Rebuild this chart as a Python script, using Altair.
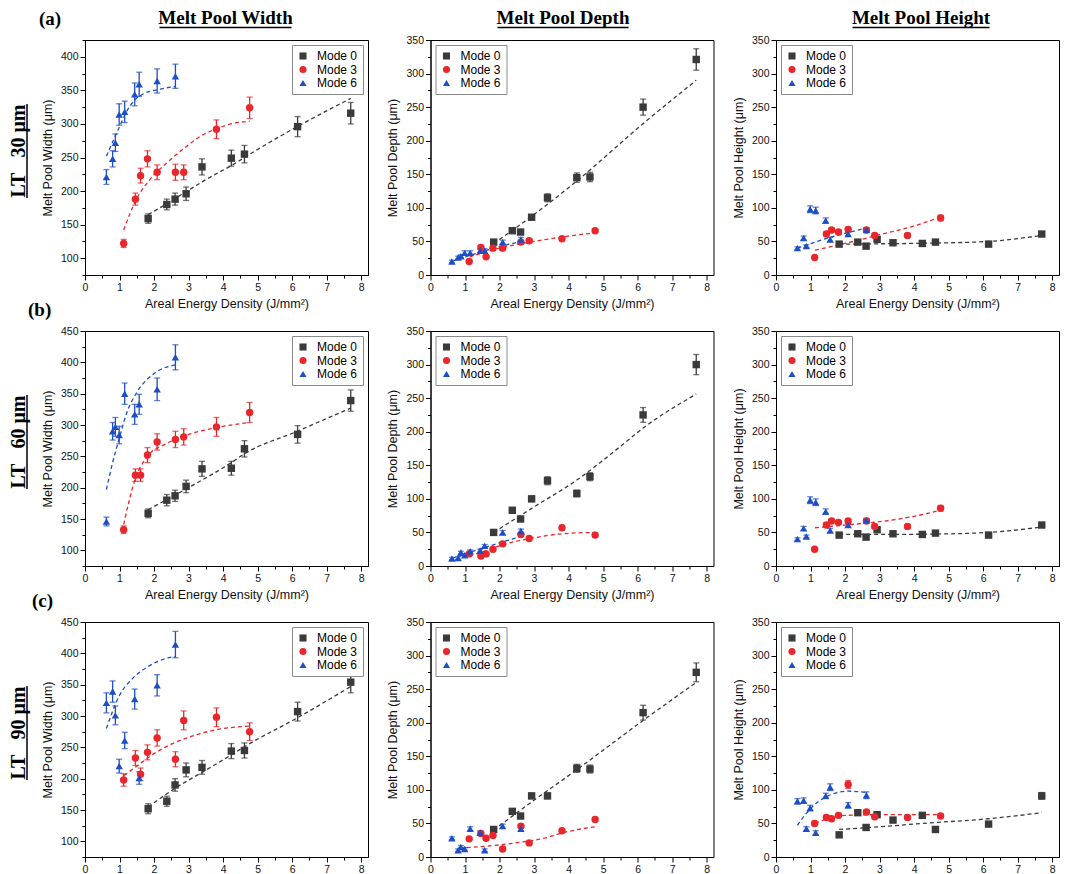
import altair as alt
import pandas as pd

MODES = ["Mode 0", "Mode 3", "Mode 6"]
MODE_COLORS = ["#3a3a3a", "#e8262b", "#1d4ec6"]
MODE_SHAPES = ["square", "circle", "triangle-up"]

SANS = "Liberation Sans"
SERIF = "Liberation Serif"

# Areal energy density (J/mm²) of each scan mode
AED_MODE0 = [1.83, 2.37, 2.61, 2.93, 3.39, 4.24, 4.62, 6.16, 7.70]
AED_MODE3 = [1.12, 1.46, 1.61, 1.81, 2.09, 2.62, 2.86, 3.81, 4.77]
AED_MODE6 = [0.62, 0.80, 0.88, 0.99, 1.15, 1.44, 1.57, 2.09, 2.62]

# ---- LT 30 µm -------------------------------------------------------------
WIDTH30_MODE0 = [159, 180, 188, 196, 236, 249, 255, 296, 316]
WIDTH30_MODE0_ERR = [7, 8, 9, 10, 12, 12, 13, 15, 16]
WIDTH30_MODE3 = [122, 188, 223, 248, 228, 228, 228, 292, 324]
WIDTH30_MODE3_ERR = [6, 9, 11, 12, 11, 12, 11, 14, 16]
WIDTH30_MODE6 = [221, 248, 272, 314, 318, 344, 359, 364, 371]
WIDTH30_MODE6_ERR = [11, 12, 13, 16, 16, 17, 18, 18, 18]

DEPTH30_MODE0 = [49, 66, 64, 86, 115, 145, 146, 250, 321]
DEPTH30_MODE0_ERR = [3, 3, 3, 4, 6, 7, 7, 12, 16]
DEPTH30_MODE3 = [20, 41, 27, 40, 40, 49, 51, 54, 66]
DEPTH30_MODE3_ERR = [2, 3, 2, 3, 3, 3, 3, 3, 3]
DEPTH30_MODE6 = [20, 26, 28, 33, 33, 36, 36, 49, 53]
DEPTH30_MODE6_ERR = [2, 2, 2, 3, 3, 3, 3, 3, 3]

HEIGHT30_MODE0 = [46, 49, 43, 53, 48, 47, 49, 46, 61]
HEIGHT30_MODE0_ERR = [3, 3, 3, 3, 3, 3, 3, 3, 3]
HEIGHT30_MODE3 = [26, 61, 67, 64, 68, 67, 59, 59, 85]
HEIGHT30_MODE3_ERR = [2, 3, 3, 3, 3, 3, 3, 3, 4]
HEIGHT30_MODE6 = [40, 55, 43, 98, 96, 81, 53, 61, 67]
HEIGHT30_MODE6_ERR = [2, 3, 2, 5, 5, 4, 3, 3, 3]

# ---- LT 60 µm -------------------------------------------------------------
WIDTH60_MODE0 = [159, 180, 187, 202, 230, 231, 262, 285, 339]
WIDTH60_MODE0_ERR = [7, 9, 9, 10, 12, 11, 13, 14, 17]
WIDTH60_MODE3 = [133, 220, 220, 252, 273, 277, 281, 297, 320]
WIDTH60_MODE3_ERR = [6, 10, 10, 12, 13, 13, 13, 15, 16]
WIDTH60_MODE6 = [146, 290, 297, 284, 350, 317, 333, 357, 408]
WIDTH60_MODE6_ERR = [7, 14, 15, 14, 17, 16, 16, 18, 20]

DEPTH60_MODE0 = [50, 83, 70, 100, 127, 108, 133, 225, 300]
DEPTH60_MODE0_ERR = [3, 4, 3, 4, 6, 5, 6, 11, 15]
DEPTH60_MODE3 = [18, 15, 18, 25, 33, 47, 41, 57, 46]
DEPTH60_MODE3_ERR = [2, 2, 2, 2, 3, 3, 3, 3, 3]
DEPTH60_MODE6 = [11, 12, 20, 16, 22, 23, 30, 50, 52]
DEPTH60_MODE6_ERR = [2, 2, 2, 2, 2, 2, 2, 3, 3]

HEIGHT60_MODE0 = [46, 48, 43, 54, 48, 47, 49, 46, 61]
HEIGHT60_MODE0_ERR = [3, 3, 3, 3, 3, 3, 3, 3, 3]
HEIGHT60_MODE3 = [25, 61, 67, 65, 67, 67, 59, 59, 86]
HEIGHT60_MODE3_ERR = [2, 3, 3, 3, 3, 3, 3, 3, 4]
HEIGHT60_MODE6 = [40, 56, 44, 98, 95, 81, 53, 61, 68]
HEIGHT60_MODE6_ERR = [2, 3, 2, 5, 5, 4, 3, 3, 3]

# ---- LT 90 µm -------------------------------------------------------------
WIDTH90_MODE0 = [152, 164, 190, 214, 218, 244, 245, 307, 354]
WIDTH90_MODE0_ERR = [8, 8, 10, 11, 11, 12, 12, 15, 17]
WIDTH90_MODE3 = [198, 233, 207, 242, 265, 231, 293, 298, 275]
WIDTH90_MODE3_ERR = [10, 12, 10, 12, 13, 12, 15, 15, 14]
WIDTH90_MODE6 = [321, 339, 301, 220, 261, 327, 201, 349, 414]
WIDTH90_MODE6_ERR = [16, 17, 15, 11, 13, 16, 10, 17, 21]

DEPTH90_MODE0 = [41, 68, 61, 91, 91, 132, 131, 215, 275]
DEPTH90_MODE0_ERR = [3, 3, 3, 4, 4, 6, 6, 11, 14]
DEPTH90_MODE3 = [27, 35, 28, 32, 12, 46, 21, 39, 56]
DEPTH90_MODE3_ERR = [2, 2, 2, 2, 2, 3, 2, 3, 3]
DEPTH90_MODE6 = [28, 10, 15, 12, 42, 36, 10, 46, 42]
DEPTH90_MODE6_ERR = [2, 2, 2, 2, 3, 3, 2, 3, 3]

HEIGHT90_MODE0 = [33, 66, 44, 63, 55, 62, 41, 49, 91]
HEIGHT90_MODE0_ERR = [3, 3, 3, 3, 3, 3, 3, 3, 5]
HEIGHT90_MODE3 = [50, 59, 57, 62, 108, 67, 60, 59, 61]
HEIGHT90_MODE3_ERR = [3, 3, 3, 3, 6, 3, 3, 3, 3]
HEIGHT90_MODE6 = [83, 84, 42, 73, 36, 91, 104, 77, 92]
HEIGHT90_MODE6_ERR = [4, 4, 3, 4, 3, 4, 5, 4, 5]

# ---- fitted trend curves, (energy density, value) pairs -------------------
FIT_WIDTH30_MODE0 = [(1.83, 165), (2.4, 182), (2.93, 199), (3.5, 217), (4.24, 238), (5.0, 262), (6.15, 296), (7.7, 338)]
FIT_WIDTH30_MODE3 = [(1.12, 142), (1.48, 187), (1.86, 216), (2.35, 241), (2.93, 266), (3.32, 281), (3.82, 293), (4.3, 301), (4.77, 304)]
FIT_WIDTH30_MODE6 = [(0.62, 252), (0.8, 273), (1.0, 296), (1.2, 318), (1.45, 336), (1.7, 345), (2.1, 351), (2.62, 356)]
FIT_DEPTH30_MODE0 = [(1.83, 47), (3.0, 90), (4.24, 140), (6.15, 225), (7.7, 290)]
FIT_DEPTH30_MODE3 = [(1.13, 27), (2.0, 40), (3.0, 50), (4.0, 58), (4.77, 63)]
FIT_DEPTH30_MODE6 = [(0.62, 20), (1.5, 35), (2.62, 50)]
FIT_HEIGHT30_MODE0 = [(1.83, 46), (3.0, 46.5), (4.5, 47.5), (6.15, 50), (7.7, 59)]
FIT_HEIGHT30_MODE3 = [(1.13, 37), (2.0, 47), (3.0, 60), (4.0, 73), (4.76, 86)]
FIT_HEIGHT30_MODE6 = [(0.62, 40), (1.5, 55), (2.62, 70)]

FIT_WIDTH60_MODE0 = [(1.83, 165), (2.93, 198), (4.24, 240), (4.62, 254), (6.15, 290), (7.7, 327)]
FIT_WIDTH60_MODE3 = [(1.12, 141), (1.45, 213), (1.81, 250), (2.35, 270), (2.85, 282), (3.82, 296), (4.77, 304)]
FIT_WIDTH60_MODE6 = [(0.62, 197), (0.8, 240), (1.0, 280), (1.2, 318), (1.5, 352), (2.0, 382), (2.62, 396)]
FIT_DEPTH60_MODE0 = [(1.83, 50), (3.0, 88), (4.24, 128), (5.5, 178), (6.15, 205), (7.7, 256)]
FIT_DEPTH60_MODE3 = [(1.13, 15), (1.5, 21), (2.0, 30), (2.5, 37), (3.0, 42), (3.8, 48), (4.77, 50)]
FIT_DEPTH60_MODE6 = [(0.62, 11), (1.0, 18), (1.6, 28), (2.62, 44)]
FIT_HEIGHT60_MODE0 = [(1.83, 47), (3.0, 47), (4.5, 47.5), (6.15, 50), (7.7, 58)]
FIT_HEIGHT60_MODE3 = [(1.13, 57), (2.0, 61), (3.0, 66), (4.0, 74), (4.76, 83)]

FIT_WIDTH90_MODE0 = [(1.83, 155), (2.62, 185), (3.39, 210), (4.24, 238), (4.62, 251), (6.15, 297), (7.7, 347)]
FIT_WIDTH90_MODE3 = [(1.13, 205), (1.5, 220), (2.0, 240), (2.5, 255), (3.0, 266), (3.8, 278), (4.77, 284)]
FIT_WIDTH90_MODE6 = [(0.62, 280), (1.0, 333), (1.38, 360), (1.86, 380), (2.35, 392), (2.62, 395)]
FIT_DEPTH90_MODE0 = [(1.83, 40), (2.93, 82), (4.24, 130), (6.15, 203), (7.7, 260)]
FIT_DEPTH90_MODE3 = [(1.05, 14), (2.0, 18), (2.6, 22), (3.3, 28), (3.83, 36), (4.76, 45)]
FIT_HEIGHT90_MODE0 = [(1.83, 41), (3.0, 45), (4.24, 50), (6.15, 57), (7.7, 66)]
FIT_HEIGHT90_MODE3 = [(1.13, 50), (1.5, 57), (2.0, 62), (3.0, 63), (4.76, 63)]
FIT_HEIGHT90_MODE6 = [(0.62, 47), (0.8, 60), (1.0, 72), (1.3, 85), (1.6, 93), (2.1, 98), (2.62, 96)]

ROW_LABELS = ["(a)", "(b)", "(c)"]
ROW_LAYER_TEXT = ["LT\u00a0\u00a0\u00a030 μm", "LT\u00a0\u00a0\u00a060 μm", "LT\u00a0\u00a0\u00a090 μm"]
COLUMN_HEADERS = ["Melt Pool Width", "Melt Pool Depth", "Melt Pool Height"]
Y_TITLES = ["Melt Pool Width (μm)", "Melt Pool Depth (μm)", "Melt Pool Height (μm)"]
X_TITLE = "Areal Energy Density (J/mm²)"

W, H = 283, 235
X_TICKS = [i / 2 for i in range(17)]

color_scale = alt.Scale(domain=MODES, range=MODE_COLORS)
shape_scale = alt.Scale(domain=MODES, range=MODE_SHAPES)
MODE_HEX = dict(zip(MODES, MODE_COLORS))


def measurements(m0, e0, m3, e3, m6, e6):
    rows = []
    for mode, xs, ys, es in zip(MODES, (AED_MODE0, AED_MODE3, AED_MODE6), (m0, m3, m6), (e0, e3, e6)):
        for x, y, e in zip(xs, ys, es):
            rows.append({"mode": mode, "hex": MODE_HEX[mode], "aed": x, "value": y,
                         "low": y - e, "high": y + e})
    return pd.DataFrame(rows)


def curves(m0=None, m3=None, m6=None):
    rows = []
    for mode, pts in zip(MODES, (m0, m3, m6)):
        for x, y in pts or []:
            rows.append({"mode": mode, "hex": MODE_HEX[mode], "aed": x, "value": y})
    return pd.DataFrame(rows)


def x_enc():
    return alt.X(
        "aed:Q",
        scale=alt.Scale(domain=[0, 8.2], nice=False, zero=False),
        axis=alt.Axis(
            title=X_TITLE,
            values=X_TICKS,
            labelExpr="datum.value % 1 === 0 ? format(datum.value, 'd') : ''",
            tickSize={"condition": {"test": "datum.value % 1 === 0", "value": 5}, "value": 3},
            labelFlush=False,
            labelOverlap=False,
        ),
    )


def y_enc(field, title, lo, hi):
    return alt.Y(
        f"{field}:Q",
        scale=alt.Scale(domain=[lo, hi], nice=False, zero=False),
        axis=alt.Axis(
            title=title,
            values=list(range(lo, hi + 1, 25)),
            labelExpr="datum.value % 50 === 0 ? format(datum.value, 'd') : ''",
            tickSize={"condition": {"test": "datum.value % 50 === 0", "value": 5}, "value": 3},
            labelFlush=False,
            labelOverlap=False,
        ),
    )


def single():
    return alt.Data(values=[{"k": 0}])


HEADER_CENTER = [W / 2 - 1, W / 2 - 9, W / 2 + 3.5]
HEADER_HALF = [66, 65.5, 68.5]
ROW_LABEL_X = [-46, -57, -53]
LEGEND_ORIENT = ["top-right", "top-left", "top-left"]


def panel(row, col, meas, fit, lo, hi):
    title = Y_TITLES[col]
    legend = alt.Legend(
        title=None, orient=LEGEND_ORIENT[col], offset=5,
        strokeColor="#8a8a8a", fillColor="white", padding=5,
        labelFont=SANS, labelFontSize=12, symbolSize=50, rowPadding=1.5,
        labelOffset=8,
    )
    stroke_id = alt.Stroke("hex:N", scale=None)

    lines = alt.Chart(fit).mark_line(strokeDash=[4, 3], strokeWidth=1.3, interpolate="monotone").encode(
        x=x_enc(), y=y_enc("value", title, lo, hi), stroke=stroke_id, detail="mode:N"
    )
    stems = alt.Chart(meas).mark_rule(strokeWidth=1.3).encode(
        x=x_enc(), y=y_enc("low", title, lo, hi), y2="high:Q", stroke=stroke_id
    )
    caps_low = alt.Chart(meas).mark_tick(orient="horizontal", size=6, thickness=1.3).encode(
        x=x_enc(), y=y_enc("low", title, lo, hi), fill=alt.Fill("hex:N", scale=None)
    )
    caps_high = alt.Chart(meas).mark_tick(orient="horizontal", size=6, thickness=1.3).encode(
        x=x_enc(), y=y_enc("high", title, lo, hi), fill=alt.Fill("hex:N", scale=None)
    )
    dots = alt.Chart(meas).mark_point(filled=True, opacity=1, size=55).encode(
        x=x_enc(),
        y=y_enc("value", title, lo, hi),
        color=alt.Color("mode:N", scale=color_scale, legend=legend),
        shape=alt.Shape("mode:N", scale=shape_scale, legend=legend),
    )
    layers = [lines, stems, caps_low, caps_high, dots]

    if row == 0:
        cx = HEADER_CENTER[col]
        layers.append(
            alt.Chart(single()).mark_text(font=SERIF, fontSize=19, fontWeight="bold", align="center",
                                          baseline="alphabetic", color="black")
            .encode(x=alt.value(cx), y=alt.value(-16), text=alt.value(COLUMN_HEADERS[col]))
        )
        layers.append(
            alt.Chart(single()).mark_rule(color="black", strokeWidth=1.3)
            .encode(x=alt.value(cx - HEADER_HALF[col]), x2=alt.value(cx + HEADER_HALF[col]), y=alt.value(-12.5))
        )
    if col == 0:
        layers.append(
            alt.Chart(single()).mark_text(font=SERIF, fontSize=19, fontWeight="bold", align="left",
                                          baseline="alphabetic", color="black")
            .encode(x=alt.value(ROW_LABEL_X[row]), y=alt.value(-15), text=alt.value(ROW_LABELS[row]))
        )
        layers.append(
            alt.Chart(single()).mark_text(font=SERIF, fontSize=20, fontWeight="bold", align="center",
                                          baseline="alphabetic", angle=270, color="black")
            .encode(x=alt.value(-60.5), y=alt.value(111), text=alt.value(ROW_LAYER_TEXT[row]))
        )
        layers.append(
            alt.Chart(single()).mark_rule(color="black", strokeWidth=1.5)
            .encode(x=alt.value(-58), y=alt.value(111 - 47), y2=alt.value(111 + 47))
        )
    return alt.layer(*layers).properties(width=W, height=H)


grid = [
    [
        (measurements(WIDTH30_MODE0, WIDTH30_MODE0_ERR, WIDTH30_MODE3, WIDTH30_MODE3_ERR, WIDTH30_MODE6, WIDTH30_MODE6_ERR),
         curves(FIT_WIDTH30_MODE0, FIT_WIDTH30_MODE3, FIT_WIDTH30_MODE6), 75, 425),
        (measurements(DEPTH30_MODE0, DEPTH30_MODE0_ERR, DEPTH30_MODE3, DEPTH30_MODE3_ERR, DEPTH30_MODE6, DEPTH30_MODE6_ERR),
         curves(FIT_DEPTH30_MODE0, FIT_DEPTH30_MODE3, FIT_DEPTH30_MODE6), 0, 350),
        (measurements(HEIGHT30_MODE0, HEIGHT30_MODE0_ERR, HEIGHT30_MODE3, HEIGHT30_MODE3_ERR, HEIGHT30_MODE6, HEIGHT30_MODE6_ERR),
         curves(FIT_HEIGHT30_MODE0, FIT_HEIGHT30_MODE3, FIT_HEIGHT30_MODE6), 0, 350),
    ],
    [
        (measurements(WIDTH60_MODE0, WIDTH60_MODE0_ERR, WIDTH60_MODE3, WIDTH60_MODE3_ERR, WIDTH60_MODE6, WIDTH60_MODE6_ERR),
         curves(FIT_WIDTH60_MODE0, FIT_WIDTH60_MODE3, FIT_WIDTH60_MODE6), 75, 450),
        (measurements(DEPTH60_MODE0, DEPTH60_MODE0_ERR, DEPTH60_MODE3, DEPTH60_MODE3_ERR, DEPTH60_MODE6, DEPTH60_MODE6_ERR),
         curves(FIT_DEPTH60_MODE0, FIT_DEPTH60_MODE3, FIT_DEPTH60_MODE6), 0, 350),
        (measurements(HEIGHT60_MODE0, HEIGHT60_MODE0_ERR, HEIGHT60_MODE3, HEIGHT60_MODE3_ERR, HEIGHT60_MODE6, HEIGHT60_MODE6_ERR),
         curves(FIT_HEIGHT60_MODE0, FIT_HEIGHT60_MODE3), 0, 350),
    ],
    [
        (measurements(WIDTH90_MODE0, WIDTH90_MODE0_ERR, WIDTH90_MODE3, WIDTH90_MODE3_ERR, WIDTH90_MODE6, WIDTH90_MODE6_ERR),
         curves(FIT_WIDTH90_MODE0, FIT_WIDTH90_MODE3, FIT_WIDTH90_MODE6), 75, 450),
        (measurements(DEPTH90_MODE0, DEPTH90_MODE0_ERR, DEPTH90_MODE3, DEPTH90_MODE3_ERR, DEPTH90_MODE6, DEPTH90_MODE6_ERR),
         curves(FIT_DEPTH90_MODE0, FIT_DEPTH90_MODE3), 0, 350),
        (measurements(HEIGHT90_MODE0, HEIGHT90_MODE0_ERR, HEIGHT90_MODE3, HEIGHT90_MODE3_ERR, HEIGHT90_MODE6, HEIGHT90_MODE6_ERR),
         curves(FIT_HEIGHT90_MODE0, FIT_HEIGHT90_MODE3, FIT_HEIGHT90_MODE6), 0, 350),
    ],
]

panels = []
for r, row_specs in enumerate(grid):
    for c, (meas, fit, lo, hi) in enumerate(row_specs):
        panels.append(panel(r, c, meas, fit, lo, hi))

chart = (
    alt.concat(*panels, columns=3, spacing={"row": 56, "column": 62.5}, bounds="flush")
    .resolve_legend(color="independent", shape="independent")
    .properties(padding={"left": 8, "top": 8, "right": 0, "bottom": 0})
    .configure(font=SANS)
    .configure_view(stroke="black", strokeWidth=1)
    .configure_axis(
        domainColor="black", domainWidth=1, tickColor="black", tickWidth=1,
        labelColor="#111", labelFont=SANS, labelFontSize=10.5, labelPadding=2,
        titleColor="#111", titleFont=SANS, titleFontSize=12.5, titleFontWeight="normal",
        grid=False,
    )
    .configure_axisY(titlePadding=6)
    .configure_axisX(titlePadding=5)
)

chart.save("out.html", embed_options={"renderer": "svg", "actions": False})
